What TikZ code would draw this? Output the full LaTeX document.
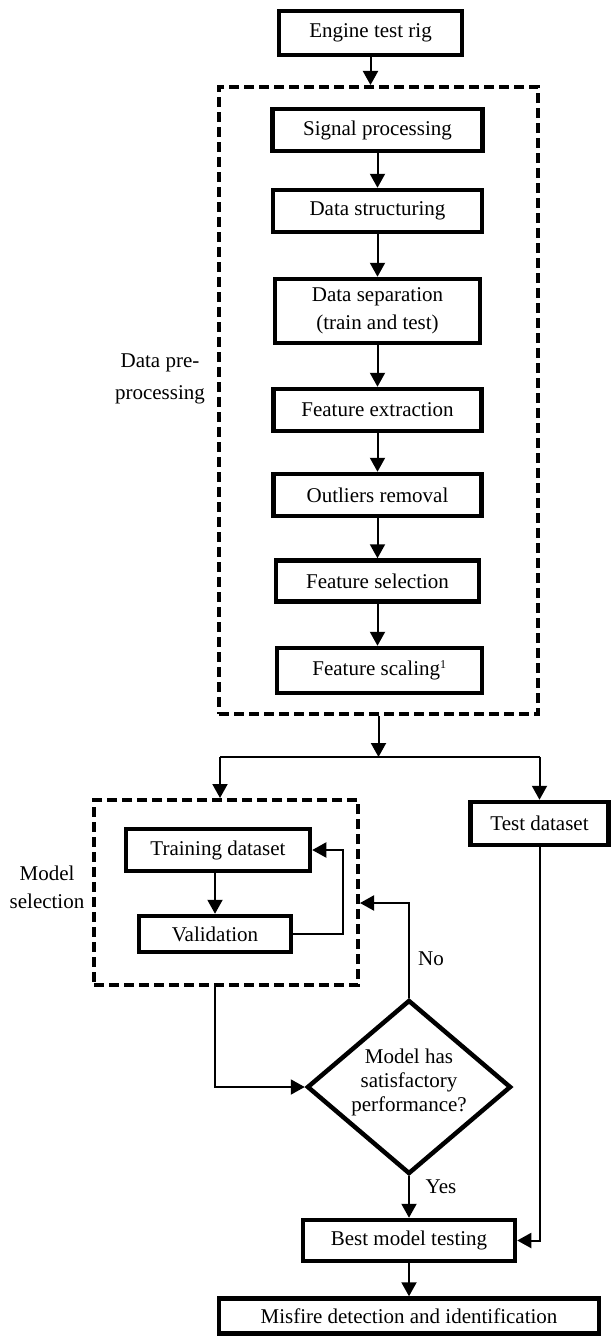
\documentclass[tikz,border=0pt]{standalone}
\usepackage{fontspec}
\setmainfont{Liberation Serif}
\usetikzlibrary{arrows.meta,shapes.geometric}
\begin{document}
\begin{tikzpicture}[x=1pt,y=-1pt,
  box/.style={draw,line width=4.5pt,inner sep=0pt,align=center,font=\fontsize{21}{28}\selectfont},
  grp/.style={draw,line width=4pt,dash pattern=on 10pt off 5pt,inner sep=0pt},
  conn/.style={line width=2pt,-{Triangle[length=14pt,width=15pt]}},
  plain/.style={line width=2pt},
  lab/.style={align=center,font=\fontsize{21}{28}\selectfont},
]
\fill[white] (0,0) rectangle (612,1338);
\useasboundingbox (0,0) rectangle (612,1338);

% top
\node[box,minimum width=183pt,minimum height=44pt] (rig) at (370.5,33) {Engine test rig};
\node[grp,minimum width=319pt,minimum height=627pt] (pre) at (378.5,400.5) {};
\node[lab,font=\fontsize{21}{32}\selectfont] (prelab) at (160,379) {Data pre-\\processing};

\node[box,minimum width=210pt,minimum height=42pt] (sig) at (377.5,130) {Signal processing};
\node[box,minimum width=209pt,minimum height=42pt] (struct) at (377.5,211) {Data structuring};
\node[box,minimum width=205pt,minimum height=64pt] (sep) at (377.5,311) {Data separation\\(train and test)};
\node[box,minimum width=208pt,minimum height=42pt] (fext) at (377.5,410) {Feature extraction};
\node[box,minimum width=208pt,minimum height=42pt] (outl) at (377.5,495) {Outliers removal};
\node[box,minimum width=203pt,minimum height=41pt] (fsel) at (377.5,581) {Feature selection};
\node[box,minimum width=205pt,minimum height=45pt] (fscal) at (379.5,670.5) {Feature scaling\textsuperscript{\fontsize{12}{12}\selectfont 1}};

\draw[conn] (rig.south) -- (rig.south |- pre.north);
\draw[conn] (sig) -- (struct);
\draw[conn] (struct) -- (sep);
\draw[conn] (sep) -- (fext);
\draw[conn] (fext) -- (outl);
\draw[conn] (outl) -- (fsel);
\draw[conn] (fsel.south) -- (fsel.south |- fscal.north);

% split
\coordinate (split) at (378.5,757);
\coordinate (sl) at (220,757);
\coordinate (sr) at (539.5,757);
\draw[conn] (pre.south) -- (split);
\draw[plain] (sl) -- (sr);

% model selection
\node[grp,minimum width=264pt,minimum height=185pt] (msel) at (226,892.5) {};
\node[lab] (msellab) at (47,887) {Model\\selection};
\node[box,minimum width=184pt,minimum height=42pt] (train) at (218,850) {Training dataset};
\node[box,minimum width=152pt,minimum height=36pt] (valid) at (215,934) {Validation};
\node[box,minimum width=138pt,minimum height=43pt] (test) at (539.5,823.5) {Test dataset};

\draw[conn] (sl) -- (sl |- msel.north);
\draw[conn] (sr) -- (test.north);
\draw[conn] (train.south -| valid) -- (valid.north);
\draw[conn] (valid.east) -- ++(50,0) |- (train.east);

% decision
\node[draw,diamond,line width=4.5pt,inner sep=0pt,minimum width=204pt,minimum height=174pt] (dia) at (409,1087) {};
\node[lab,font=\fontsize{21}{24}\selectfont] (dialab) at ([yshift=5pt]dia.center) {Model has\\satisfactory\\performance?};

\coordinate (noy) at (409,903);
\draw[conn] (dia.north) -- (noy) -- (noy -| msel.east);
\node[lab] (nolab) at (431,959) {No};
\draw[conn] (msel.south -| valid) |- (dia.west);

\node[box,minimum width=212pt,minimum height=41pt] (best) at (409,1240.5) {Best model testing};
\node[box,minimum width=380pt,minimum height=35pt] (mis) at (409,1316) {Misfire detection and identification};

\draw[conn] (dia.south) -- (best.north);
\node[lab] (yeslab) at (441,1187) {Yes};
\draw[conn] (test.south) |- (best.east);
\draw[conn] (best) -- (mis);
\end{tikzpicture}
\end{document}
